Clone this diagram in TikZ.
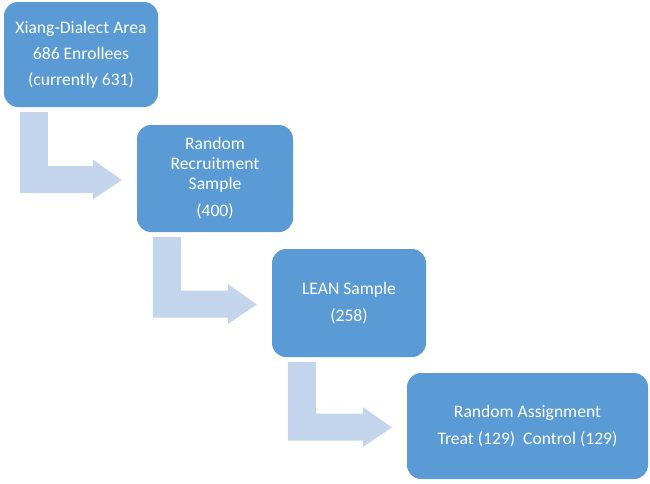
\documentclass[tikz,border=0pt]{standalone}
\usepackage{fontspec}
\setmainfont{Carlito}
\usetikzlibrary{calc}
\definecolor{boxblue}{RGB}{91,155,213}
\definecolor{arrowblue}{RGB}{195,213,236}

\tikzset{
    stage/.style={fill=boxblue, rounded corners=14pt, inner sep=0pt, text=white,
        align=center, font=\fontsize{17.6}{20}\selectfont},
    bent/.style={fill=arrowblue}
}

\begin{document}
\begin{tikzpicture}[x=1pt,y=-1pt]
        \useasboundingbox (0,0) rectangle (650,483);

        % Stages
        \node[stage, minimum width=154pt, minimum height=105pt] (area) at (81,54.5)
            {Xiang-Dialect Area\\[6pt]686 Enrollees\\[6pt](currently 631)};
        \node[stage, minimum width=156pt, minimum height=107pt] (recruit) at (215,178.5)
            {Random\\Recruitment\\Sample\\[7pt](400)};
        \node[stage, minimum width=154pt, minimum height=108pt] (lean) at (349,303)
            {LEAN Sample\\[7pt](258)};
        \node[stage, minimum width=241pt, minimum height=106pt] (assign) at (527.5,426)
            {Random Assignment\\[7pt]Treat (129)\ \ Control (129)};

        % Bent arrows
        \foreach \a/\b in {area/recruit, recruit/lean, lean/assign}{
            \fill[bent] let \p1=(\a.south west), \p2=(\b.west) in
                ({\x1+16pt},{\y1-5pt}) -- ({\x1+44pt},{\y1-5pt})
                -- ({\x1+44pt},{\y2+12.5pt}) -- ({\x2-44pt},{\y2+12.5pt})
                -- ({\x2-44pt},{\y2+19pt}) -- ({\x2-15pt},{\y2-1.5pt})
                -- ({\x2-44pt},{\y2-21pt}) -- ({\x2-44pt},{\y2-14.5pt})
                -- ({\x1+16pt},{\y2-14.5pt}) -- cycle;
        }
    \end{tikzpicture}
\end{document}
